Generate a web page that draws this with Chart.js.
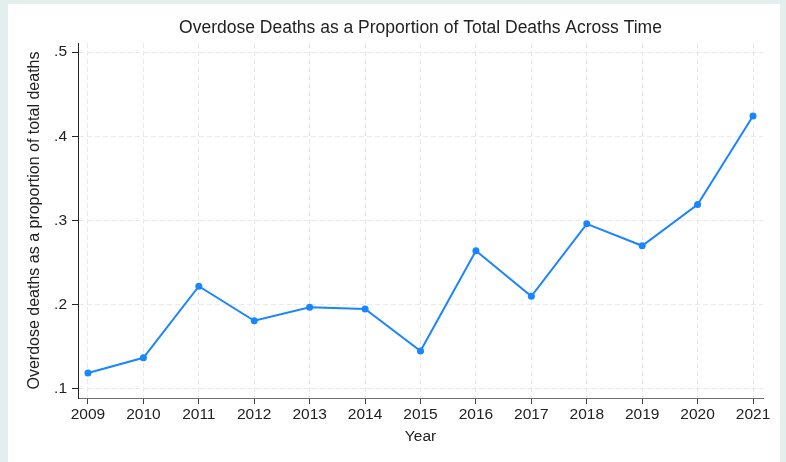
<!DOCTYPE html>
<html lang="en">
<head>
    <meta charset="UTF-8">
    <title>Overdose Deaths as a Proportion of Total Deaths Across Time</title>
    <script src="https://cdn.jsdelivr.net/npm/chart.js"></script>
    <style>
        html, body { margin: 0; padding: 0; background: #e3efec; }
        #panel { position: absolute; left: 8px; top: 4px; width: 772px; height: 458px; background: #fff; }
        canvas { display: block; }
    </style>
</head>
<body>
<div id="panel">
    <canvas id="overdose-chart" width="772" height="458"></canvas>
</div>

<script>
    // years and share of deaths that were overdoses
    const years = [2009, 2010, 2011, 2012, 2013, 2014, 2015, 2016, 2017, 2018, 2019, 2020, 2021];
    const proportions = [0.119, 0.137, 0.222, 0.181, 0.197, 0.195, 0.145, 0.264, 0.210, 0.296, 0.270, 0.319, 0.424];
    const yTicks = [0.1, 0.2, 0.3, 0.4, 0.5];
    const chartTitle = 'Overdose Deaths as a Proportion of Total Deaths Across Time';

    const font = 'Liberation Sans, Arial, sans-serif';
    const lineColor = '#1a85ff';

    // title is centred over the plot region, not the whole canvas
    const plotTitle = {
        id: 'plotTitle',
        afterDraw(chart) {
            const c = chart.ctx, a = chart.chartArea;
            c.save();
            c.font = '17.5px ' + font;
            c.fillStyle = '#222';
            c.textAlign = 'center';
            c.textBaseline = 'middle';
            c.fillText(chartTitle, (a.left + a.right) / 2, 24);
            c.restore();
        }
    };

    const ctx = document.getElementById('overdose-chart').getContext('2d');
    new Chart(ctx, {
        type: 'line',
        data: {
            datasets: [{
                data: years.map((y, i) => ({ x: y, y: proportions[i] })),
                borderColor: lineColor,
                backgroundColor: lineColor,
                borderWidth: 2,
                pointRadius: 3.5,
                pointBorderWidth: 0,
                tension: 0
            }]
        },
        plugins: [plotTitle],
        options: {
            responsive: false,
            animation: false,
            layout: { padding: { left: 0, right: 17, top: 39, bottom: 0 } },
            plugins: {
                legend: { display: false },
                tooltip: { enabled: false },
                title: { display: false }
            },
            scales: {
                x: {
                    type: 'linear',
                    min: 2008.82,
                    max: 2021.18,
                    afterBuildTicks: s => { s.ticks = years.map(v => ({ value: v })); },
                    afterFit: s => { s.height = 64; },
                    ticks: {
                        color: '#222',
                        font: { family: font, size: 15.5 },
                        padding: 1,
                        maxRotation: 0,
                        callback: v => String(v)
                    },
                    grid: { color: '#e9e9e9', tickColor: '#444', tickLength: 6, lineWidth: 1 },
                    border: { color: '#6e6e6e', width: 1, dash: [5, 3] },
                    title: {
                        display: true,
                        text: 'Year',
                        color: '#222',
                        font: { family: font, size: 15.5 },
                        padding: { top: 0, bottom: 15.5 }
                    }
                },
                y: {
                    type: 'linear',
                    min: 0.0893,
                    max: 0.5107,
                    afterBuildTicks: s => { s.ticks = yTicks.map(v => ({ value: v })); },
                    afterFit: s => { s.width = 70; },
                    ticks: {
                        color: '#222',
                        font: { family: font, size: 15.5 },
                        padding: 5,
                        callback: v => v.toFixed(1).replace(/^0/, '')
                    },
                    grid: { color: '#e9e9e9', tickColor: '#222', tickLength: 6, lineWidth: 1 },
                    border: { color: '#222', width: 1, dash: [5, 3] },
                    title: {
                        display: true,
                        text: 'Overdose deaths as a proportion of total deaths',
                        color: '#222',
                        font: { family: font, size: 16 },
                        padding: { top: 17, bottom: 0 }
                    }
                }
            }
        }
    });
</script>
</body>
</html>
